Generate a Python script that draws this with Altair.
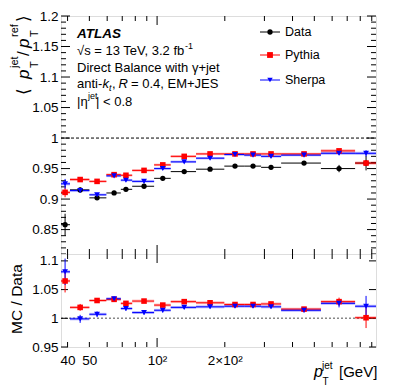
import altair as alt
import pandas as pd

# ---------------- data ----------------
series_names = ["Data", "Pythia", "Sherpa"]
series_colors = ["#000000", "#ff0000", "#0000ff"]
series_shapes = ["circle", "square", "triangle-down"]
series_sizes = [28, 34, 30]

pt_center = [39.0, 45.5, 54.1, 64.4, 72.7, 87.5, 106, 132, 172, 222, 267, 321, 450, 644, 849]
pt_low = [37.4, 41.0, 50.0, 59.5, 69.0, 77.5, 97.0, 115, 149, 199, 244, 290, 356, 535, 759]
pt_high = [41.0, 50.0, 59.5, 69.0, 77.5, 97.0, 115, 149, 199, 244, 290, 356, 535, 759, 940]

data_resp = [0.858, 0.915, 0.902, 0.910, 0.916, 0.921, 0.934, 0.945, 0.949, 0.954, 0.954, 0.952, 0.959, 0.950, 0.959]
data_err = [0.018, 0.004, 0.003, 0.003, 0.003, 0.003, 0.003, 0.003, 0.003, 0.003, 0.003, 0.003, 0.003, 0.006, 0.012]
pythia_resp = [0.911, 0.932, 0.929, 0.940, 0.939, 0.947, 0.956, 0.970, 0.974, 0.974, 0.974, 0.974, 0.974, 0.979, 0.959]
pythia_err = [0.008, 0.003, 0.002, 0.002, 0.002, 0.002, 0.002, 0.002, 0.002, 0.002, 0.002, 0.002, 0.002, 0.003, 0.005]
sherpa_resp = [0.925, 0.914, 0.907, 0.938, 0.931, 0.929, 0.950, 0.961, 0.967, 0.973, 0.972, 0.970, 0.972, 0.975, 0.975]
sherpa_err = [0.008, 0.003, 0.002, 0.002, 0.002, 0.002, 0.002, 0.002, 0.002, 0.002, 0.002, 0.002, 0.002, 0.003, 0.005]

ratio_pythia = [1.065, 1.019, 1.031, 1.033, 1.026, 1.030, 1.023, 1.029, 1.027, 1.024, 1.024, 1.025, 1.016, 1.029, 1.001]
ratio_pythia_err = [0.020, 0.006, 0.004, 0.004, 0.004, 0.003, 0.003, 0.003, 0.003, 0.003, 0.003, 0.003, 0.003, 0.007, 0.018]
ratio_sherpa = [1.081, 0.999, 1.007, 1.034, 1.017, 1.010, 1.014, 1.019, 1.020, 1.021, 1.021, 1.020, 1.014, 1.026, 1.021]
ratio_sherpa_err = [0.023, 0.007, 0.005, 0.004, 0.004, 0.004, 0.004, 0.003, 0.003, 0.003, 0.003, 0.003, 0.004, 0.007, 0.018]

x_tick_labels = {100: "10²", 200: "2×10²"}
x_label_values = [40, 50, 100, 200]
x_minor_ticks = [40, 50, 60, 70, 80, 90, 200, 300, 400, 500, 600, 700, 800, 900]
x_major_ticks = [100]
top_y_labels = [0.85, 0.9, 0.95, 1.0, 1.05, 1.1, 1.15, 1.2]
top_y_minor = [round(0.81 + 0.01 * i, 2) for i in range(40)]
bot_y_labels = [0.95, 1.0, 1.05, 1.1]
bot_y_minor = [round(0.95 + 0.01 * i, 2) for i in range(17)]

# ---------------- layout constants ----------------
FONT = "Liberation Sans"
W, H1, H2 = 315, 238, 93
XDOM = [37.4, 940]
Y1 = [0.81, 1.2]
Y2 = [0.95, 1.112]


def frame(name, vals, errs):
    d = pd.DataFrame({"series": name, "pt": pt_center, "lo": pt_low, "hi": pt_high,
                      "val": vals, "err": errs})
    d["ylo"] = d["val"] - d["err"]
    d["yhi"] = d["val"] + d["err"]
    band = d["err"].clip(upper=0.0025)
    d["blo"] = d["val"] - band
    d["bhi"] = d["val"] + band
    return d


top_df = pd.concat([frame("Data", data_resp, data_err),
                    frame("Pythia", pythia_resp, pythia_err),
                    frame("Sherpa", sherpa_resp, sherpa_err)], ignore_index=True)
bot_df = pd.concat([frame("Pythia", ratio_pythia, ratio_pythia_err),
                    frame("Sherpa", ratio_sherpa, ratio_sherpa_err)], ignore_index=True)

xs = alt.Scale(type="log", domain=XDOM, nice=False)
color = alt.Color("series:N", scale=alt.Scale(domain=series_names, range=series_colors), legend=None)
shape = alt.Shape("series:N", scale=alt.Scale(domain=series_names, range=series_shapes), legend=None)
size = alt.Size("series:N", scale=alt.Scale(domain=series_names, range=series_sizes), legend=None)

DUMMY = alt.Data(values=[{"a": 1}])


def txt(s, x, y, size=13, align="left", baseline="alphabetic", angle=0, style="normal",
        weight="normal", color="black"):
    kw = dict(text=s, fontSize=size, align=align, baseline=baseline, font=FONT,
              color=color, fontStyle=style, fontWeight=weight)
    if angle:
        kw["angle"] = angle
    return alt.Chart(DUMMY).mark_text(**kw).encode(x=alt.value(x), y=alt.value(y))


def XE(field, xaxis):
    if xaxis is None:
        return alt.X(field, scale=xs, axis=None)
    return alt.X(field, scale=xs, axis=xaxis, title=None)


def YE(field, ys, yaxis):
    return alt.Y(field, scale=ys, axis=yaxis, title=None)


def data_layers(df, ys, yaxis, xaxis):
    base = alt.Chart(df)
    mc = df[df["series"] != "Data"]
    bands = alt.Chart(mc).mark_rect(opacity=0.3).encode(
        x=XE("lo:Q", xaxis), x2="hi:Q",
        y=YE("blo:Q", ys, yaxis), y2="bhi:Q", color=color)
    hbar = base.mark_rule(strokeWidth=1).encode(
        x=XE("lo:Q", xaxis), x2="hi:Q",
        y=YE("val:Q", ys, yaxis), color=color)
    vbar = base.mark_rule(strokeWidth=1).encode(
        x=XE("pt:Q", xaxis),
        y=YE("ylo:Q", ys, yaxis), y2="yhi:Q", color=color)
    pts = base.mark_point(filled=True, opacity=1).encode(
        x=XE("pt:Q", xaxis), y=YE("val:Q", ys, yaxis),
        color=color, shape=shape, size=size)
    return [bands, hbar, vbar, pts]


def tick_layers(ys, yaxis, xaxis, height, ymajor, yminor, ymaj_len, ymin_len):
    layers = []
    ydf_maj = pd.DataFrame({"v": ymajor})
    ydf_min = pd.DataFrame({"v": [v for v in yminor if v not in ymajor]})
    for d, ln in ((ydf_maj, ymaj_len), (ydf_min, ymin_len)):
        if len(d) == 0 or ln <= 0:
            continue
        y = YE("v:Q", ys, yaxis)
        layers.append(alt.Chart(d).mark_rule(color="black", strokeWidth=1).encode(
            y=y, x=alt.value(0), x2=alt.value(ln)))
        layers.append(alt.Chart(d).mark_rule(color="black", strokeWidth=1).encode(
            y=y, x=alt.value(W), x2=alt.value(W - ln)))
    for vals, ln in ((x_major_ticks, 9), (x_minor_ticks, 5)):
        d = pd.DataFrame({"v": vals})
        x = XE("v:Q", xaxis)
        layers.append(alt.Chart(d).mark_rule(color="black", strokeWidth=1).encode(
            x=x, y=alt.value(height), y2=alt.value(height - ln)))
        layers.append(alt.Chart(d).mark_rule(color="black", strokeWidth=1).encode(
            x=x, y=alt.value(0), y2=alt.value(ln)))
    return layers


# ---------------- top panel ----------------
ys1 = alt.Scale(domain=Y1, nice=False, zero=False)
yaxis1 = alt.Axis(values=top_y_labels, format="~g", tickSize=0, domain=False, grid=False,
                  labelPadding=3, labelFontSize=13.5, labelFont=FONT, labelColor="black")
ref1 = alt.Chart(pd.DataFrame({"v": [1.0]})).mark_rule(
    color="black", strokeWidth=1, strokeDash=[3, 2]).encode(
    y=YE("v:Q", ys1, yaxis1), x=alt.value(0), x2=alt.value(W))

top_layers = [ref1] + tick_layers(ys1, yaxis1, None, H1, top_y_labels, top_y_minor, 9, 5) + \
    data_layers(top_df, ys1, yaxis1, None)

# annotations
ox, oy = 64, 14
top_layers += [
    txt("ATLAS", 80 - ox, 35.5 - oy, size=13.5, style="italic", weight="bold"),
    txt("√s = 13 TeV, 3.2 fb", 80 - ox, 52.5 - oy),
    txt("-1", 188 - ox, 47 - oy, size=9),
    txt("Direct Balance with γ+jet", 80 - ox, 70 - oy),
    txt("anti-", 80 - ox, 86 - oy),
    txt("k", 105.5 - ox, 86 - oy, style="italic"),
    txt("t", 112 - ox, 89 - oy, size=9, style="italic"),
    txt(",", 115 - ox, 86 - oy),
    txt("R", 121.5 - ox, 86 - oy, style="italic"),
    txt("= 0.4, EM+JES", 134 - ox, 86 - oy),
    txt("|η", 80 - ox, 104 - oy),
    txt("jet", 91 - ox, 97 - oy, size=9),
    txt("| < 0.8", 99 - ox, 104 - oy),
]

# legend
leg_y = [30 - oy, 53 - oy, 78 - oy]
for name, col, shp, sz, ly in zip(series_names, series_colors, series_shapes, series_sizes, leg_y):
    top_layers.append(alt.Chart(DUMMY).mark_rule(color=col, strokeWidth=1).encode(
        x=alt.value(263 - ox), x2=alt.value(283 - ox), y=alt.value(ly)))
    top_layers.append(alt.Chart(DUMMY).mark_point(filled=True, opacity=1, color=col, shape=shp,
                                                   size=sz).encode(
        x=alt.value(273 - ox), y=alt.value(ly)))
    top_layers.append(txt(name, 288 - ox, ly, size=12.5, baseline="middle"))

# y title  < p_T^jet / p_T^ref >
sh = 3
tb = 28.5 - ox + sh
top_layers += [
    txt("⟨", tb, 93 - oy, size=17, angle=270),
    txt("p", tb, 77 - oy, size=17, angle=270, style="italic"),
    txt("T", 37.5 - ox + sh, 66 - oy, size=11, angle=270),
    txt("jet", 18 - ox + sh, 66 - oy, size=11, angle=270),
    txt("/", tb, 54 - oy, size=17, angle=270),
    txt("p", tb, 46 - oy, size=17, angle=270, style="italic"),
    txt("T", 37.5 - ox + sh, 35 - oy, size=11, angle=270),
    txt("ref", 18 - ox + sh, 35 - oy, size=11, angle=270),
    txt("⟩", tb, 20 - oy, size=17, angle=270),
]

top = alt.layer(*top_layers).properties(width=W, height=H1)

# ---------------- bottom panel ----------------
ys2 = alt.Scale(domain=Y2, nice=False, zero=False)
yaxis2 = alt.Axis(values=bot_y_labels, format="~g", tickSize=0, domain=False, grid=False,
                  labelPadding=3, labelFontSize=13.5, labelFont=FONT, labelColor="black")
label_expr = " : ".join(
    [f"datum.value == {k} ? '{v}'" for k, v in x_tick_labels.items()]) + " : datum.label"
xaxis2 = alt.Axis(values=x_label_values, labelExpr=label_expr, tickSize=0, domain=False,
                  grid=False, labelPadding=6, labelFontSize=13.5, labelFont=FONT,
                  labelColor="black", labelFlush=False, labelOverlap=False)
ref2 = alt.Chart(pd.DataFrame({"v": [1.0]})).mark_rule(
    color="#888888", strokeWidth=1.5, strokeDash=[2, 2]).encode(
    y=YE("v:Q", ys2, yaxis2), x=alt.value(0), x2=alt.value(W))

bot_layers = [ref2] + tick_layers(ys2, yaxis2, xaxis2, H2, bot_y_labels, bot_y_minor, 7, 0) + \
    data_layers(bot_df, ys2, yaxis2, xaxis2)
oy2 = 252
bot_layers += [
    txt("MC / Data", 25 - ox, 297 - oy2, size=15.5, angle=270, align="center"),
    txt("p", 317 - ox, 375 - oy2, size=16, style="italic"),
    txt("jet", 325 - ox, 367 - oy2, size=10),
    txt("T", 325.5 - ox, 383 - oy2, size=10),
    txt("[GeV]", 342 - ox, 375 - oy2, size=15),
]
bottom = alt.layer(*bot_layers).properties(width=W, height=H2)

chart = alt.vconcat(top, bottom, spacing=0, bounds="flush").properties(
    padding={"left": 0, "top": 0, "right": 0, "bottom": 0}
).configure_view(stroke="black", strokeWidth=1).configure(font=FONT)

chart.save("out.html", embed_options={"renderer": "svg", "actions": False})
